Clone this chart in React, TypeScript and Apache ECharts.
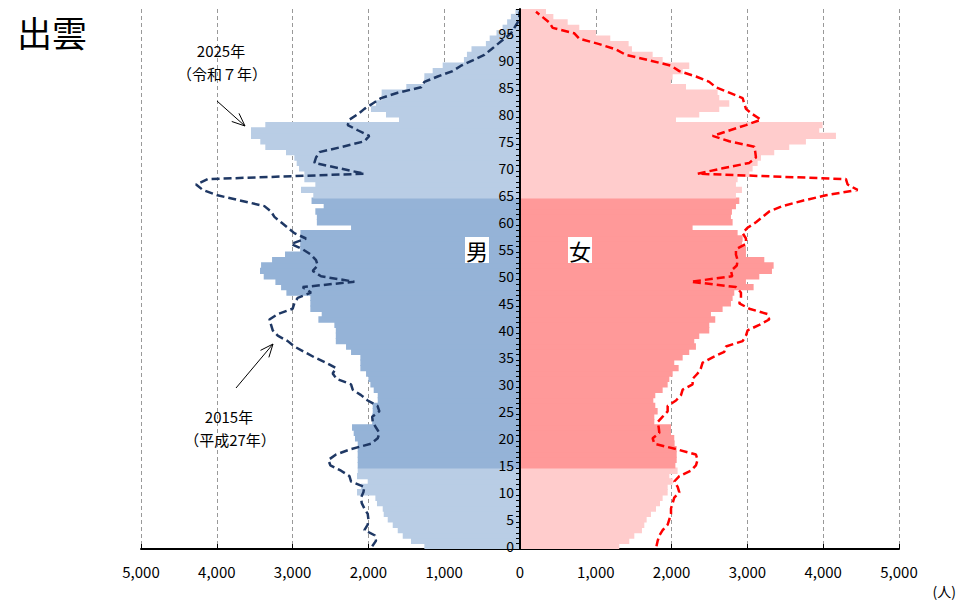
import React, { useEffect, useRef } from 'react';
import * as echarts from 'echarts';

const ages: string[] = Array.from({ length: 100 }, (_, i) => String(i));

// 2025 (令和7年) bars, persons by single year of age 0..99
const male2025 = [
  1262, 1438, 1547, 1613, 1679, 1745, 1798, 1811, 1887, 1908,
  2150, 2097, 2009, 2150, 2141, 2141, 2141, 2141, 2141, 2141,
  2177, 2194, 2216, 1950, 1950, 1943, 1943, 1877, 1877, 1930,
  1974, 2000, 2031, 2106, 2106, 2106, 2229, 2295, 2430, 2430,
  2430, 2449, 2660, 2616, 2766, 2766, 2766, 3082, 3152, 3227,
  3381, 3430, 3416, 3271, 3100, 2900, 2900, 2900, 2897, 2229,
  2680, 2680, 2700, 2590, 2750, 2727, 2889, 2700, 2845, 2845,
  2915, 2946, 2977, 3087, 3360, 3426, 3549, 3549, 3360, 1596,
  1768, 1966, 1900, 1825, 1825, 1500, 1262, 1262, 1152, 1020,
  740, 700, 640, 450, 400, 310, 230, 170, 120, 60,
];
const female2025 = [
  1310, 1442, 1508, 1609, 1640, 1671, 1728, 1794, 1847, 1882,
  1948, 1948, 2014, 1970, 2079, 2050, 2067, 2067, 2067, 2040,
  2035, 1992, 1992, 1772, 1772, 1816, 1785, 1759, 1785, 1882,
  1948, 1970, 2014, 2093, 2035, 2146, 2233, 2321, 2299, 2365,
  2497, 2497, 2576, 2519, 2673, 2783, 2805, 2827, 3082, 2981,
  3157, 3324, 3346, 3223, 2981, 2981, 2930, 2937, 2871, 2277,
  2805, 2783, 2796, 2849, 2893, 2849, 2928, 2849, 2871, 3025,
  3069, 3135, 3179, 3354, 3552, 3772, 4168, 3948, 3992, 2058,
  2365, 2629, 2761, 2629, 2607, 2190, 1992, 2014, 2146, 2233,
  1882, 1750, 1477, 1433, 1191, 1002, 782, 629, 440, 343,
];
// 2015 (平成27年) dashed lines
const male2015 = [
  1950, 1900, 1912, 2053, 2009, 2000, 2009, 2053, 2088, 2097,
  2066, 2053, 2229, 2250, 2361, 2502, 2528, 2427, 2229, 1965,
  1877, 1855, 1900, 1943, 1950, 1855, 1880, 2009, 2097, 2207,
  2229, 2420, 2471, 2427, 2559, 2713, 2845, 2977, 3064, 3196,
  3262, 3284, 3306, 3196, 2999, 2977, 2933, 2757, 2867, 2185,
  2625, 2735, 2669, 2691, 2757, 2867, 3020, 2823, 2977, 3064,
  3152, 3240, 3284, 3372, 3680, 3990, 4185, 4273, 4120, 2053,
  2383, 2713, 2691, 2647, 2339, 2053, 1988, 2133, 2273, 2251,
  2141, 2053, 1943, 1833, 1613, 1306, 1262, 1086, 888, 778,
  624, 471, 382, 295, 207, 119, 75, 31, 10, 5,
];
const female2015 = [
  1800, 1816, 1838, 1882, 1948, 1970, 1992, 1992, 2014, 2035,
  2102, 2080, 2035, 2102, 2255, 2321, 2343, 2321, 2058, 1772,
  1750, 1838, 1830, 1816, 1882, 1948, 1948, 2058, 2124, 2146,
  2277, 2277, 2343, 2387, 2409, 2541, 2695, 2717, 2937, 2981,
  3003, 3157, 3288, 3267, 3025, 2893, 2915, 2915, 2849, 2255,
  2800, 2783, 2860, 2871, 2849, 2849, 2981, 2981, 2937, 3003,
  3113, 3201, 3288, 3464, 3728, 4036, 4454, 4322, 4300, 2343,
  2673, 3025, 3113, 3104, 3091, 2761, 2541, 2761, 2981, 3179,
  3069, 2981, 2959, 2937, 2761, 2585, 2497, 2321, 2102, 1992,
  1706, 1398, 1266, 1046, 783, 717, 431, 387, 299, 211,
];

const FONT = '"Noto Sans CJK JP", "Noto Sans", sans-serif';

function arrow(x1: number, y1: number, x2: number, y2: number) {
  const ang = Math.atan2(y2 - y1, x2 - x1);
  const L = 14;
  const a = 0.4;
  const p1 = [x2 - L * Math.cos(ang - a), y2 - L * Math.sin(ang - a)];
  const p2 = [x2 - L * Math.cos(ang + a), y2 - L * Math.sin(ang + a)];
  return [
    { type: 'line', z: 100, shape: { x1, y1, x2, y2 }, style: { stroke: '#000', lineWidth: 1 } },
    { type: 'polyline', z: 100, shape: { points: [p1, [x2, y2], p2] }, style: { stroke: '#000', lineWidth: 1, fill: null } },
  ];
}

function txt(text: string, x: number, y: number, size: number, align: string = 'center', bg?: string) {
  const style: any = {
    text,
    fill: '#000',
    font: `${size}px ${FONT}`,
    align,
    verticalAlign: 'middle',
  };
  if (bg) {
    style.backgroundColor = bg;
    style.padding = [2, 1, 2, 1];
  }
  return { type: 'text', x, y, z: 100, style };
}

export default function App() {
  const ref = useRef<HTMLDivElement>(null);
  useEffect(() => {
    const chart = echarts.init(ref.current!, null, { renderer: 'svg' });
    const isWorking = (i: number) => i >= 15 && i <= 64;
    const maleData = male2025.map((v, i) => ({
      value: -v,
      itemStyle: { color: isWorking(i) ? '#95b3d7' : '#b9cde5' },
    }));
    const femaleData = female2025.map((v, i) => ({
      value: v,
      itemStyle: { color: isWorking(i) ? '#ff9999' : '#ffcccc' },
    }));
    const option: any = {
      animation: false,
      textStyle: { fontFamily: FONT },
      grid: { left: 141, right: 58, top: 9, bottom: 51, containLabel: false },
      xAxis: {
        type: 'value',
        min: -5000,
        max: 5000,
        interval: 1000,
        axisLine: { show: true, onZero: false, lineStyle: { color: '#000', width: 2 } },
        axisTick: { show: true, inside: true, length: 5, lineStyle: { color: '#000', width: 1 } },
        splitLine: { show: true, lineStyle: { type: [4, 3], color: '#999', width: 1 } },
        axisLabel: {
          formatter: (v: number) => Math.abs(v).toLocaleString('en-US'),
          fontSize: 15,
          color: '#000',
          margin: 15,
          fontFamily: FONT,
        },
      },
      yAxis: {
        type: 'category',
        data: ages,
        position: 'left',
        offset: -379,
        z: 10,
        axisLine: { show: true, onZero: false, lineStyle: { color: '#000', width: 2 } },
        axisTick: { show: true, interval: 0, length: 4, lineStyle: { color: '#000', width: 1 } },
        axisLabel: { interval: 4, fontSize: 14, margin: 6, color: '#000', fontFamily: FONT },
        splitLine: { show: false },
      },
      series: [
        {
          type: 'bar',
          name: '男2025',
          data: maleData,
          barGap: '-100%',
          barWidth: 6.4,
          z: 2,
        },
        {
          type: 'bar',
          name: '女2025',
          data: femaleData,
          barGap: '-100%',
          barWidth: 6.4,
          z: 2,
        },
        {
          type: 'line',
          name: '男2015',
          data: male2015.map((v) => -v),
          symbol: 'none',
          z: 5,
          lineStyle: { color: '#1f3864', width: 2.5, type: [8, 4] },
        },
        {
          type: 'line',
          name: '女2015',
          data: female2015,
          symbol: 'none',
          z: 5,
          lineStyle: { color: '#ff0000', width: 2.5, type: [8, 4] },
        },
      ],
      graphic: [
        txt('出雲', 17, 31, 35, 'left'),
        txt('2025年', 221, 50, 15),
        txt('（令和７年）', 222, 73, 15),
        txt('2015年', 229, 416, 15),
        txt('（平成27年）', 230, 439, 15),
        txt('男', 477, 250, 22, 'center', '#fff'),
        txt('女', 580, 250, 22, 'center', '#fff'),
        txt('(人)', 956, 591, 14, 'right'),
        ...arrow(217, 101, 245, 126),
        ...arrow(236, 388, 273, 344),
      ],
    };
    chart.setOption(option);
    return () => chart.dispose();
  }, []);
  return <div ref={ref} style={{ position: 'absolute', left: 0, top: 0, width: 957, height: 600 }} />;
}
